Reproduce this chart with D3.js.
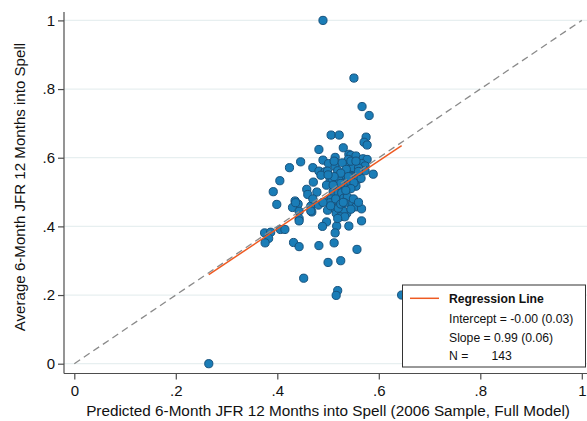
<!DOCTYPE html>
<html>
<head>
<meta charset="utf-8">
<script src="https://cdn.jsdelivr.net/npm/d3@7"></script>
<style>
  html, body { margin: 0; padding: 0; background: #fff; }
  svg { display: block; font-family: "Liberation Sans", Arial, sans-serif; }
</style>
</head>
<body>
<svg id="chart" width="587" height="421"></svg>
<script>
// ---- Data ----
const predicted = [
  .490,.551,.567,.581,.506,.522,.575,.571,.577,.530,
  .482,.541,.545,.555,.569,.577,.514,.490,.446,.501,
  .540,.566,.424,.470,.514,.538,.547,.550,.573,.573,
  .589,.482,.494,.499,.486,.519,.531,.538,.547,.555,
  .560,.504,.508,.521,.405,.471,.539,.553,.559,.543,
  .530,.518,.555,.551,.458,.460,.478,.392,.510,.520,
  .527,.399,.435,.441,.430,.466,.481,.468,.466,.502,
  .506,.520,.531,.538,.547,.555,.566,.499,.514,.524,
  .537,.516,.443,.443,.436,.443,.504,.530,.566,.497,
  .489,.517,.514,.541,.375,.387,.406,.415,.383,.376,
  .432,.443,.482,.512,.557,.500,.525,.452,.519,.516,
  .645,.265,.533,.520,.524,.533,.519,
  .512,.528,.536,.560,.545,.525,.512,.540,.565,.497,
  .525,.545,.535,.515,.550,.560,.505,.525,.545,.490,
  .470,.555,.500,.530,.510,.560
];
const actual = [
  1.000,.832,.749,.723,.666,.666,.660,.645,.637,.629,
  .624,.610,.607,.605,.597,.595,.601,.593,.588,.583,
  .595,.583,.571,.571,.574,.576,.569,.571,.576,.562,
  .552,.561,.559,.561,.549,.562,.548,.554,.546,.546,
  .554,.532,.539,.537,.533,.529,.535,.533,.537,.527,
  .517,.515,.517,.527,.508,.493,.500,.501,.501,.496,
  .498,.464,.474,.465,.455,.459,.462,.442,.445,.476,
  .480,.475,.482,.486,.463,.457,.451,.447,.452,.444,
  .438,.438,.444,.423,.469,.416,.469,.444,.416,.413,
  .400,.401,.381,.401,.381,.383,.391,.391,.365,.352,
  .353,.341,.344,.352,.333,.295,.300,.249,.213,.199,
  .200,.000,.468,.453,.428,.428,.423,
  .590,.585,.566,.570,.590,.555,.545,.545,.540,.520,
  .525,.510,.505,.480,.480,.470,.460,.465,.450,.470,
  .480,.590,.550,.470,.520,.560
];
const tickValues = [0, .2, .4, .6, .8, 1];
const tickLabels = ["0", ".2", ".4", ".6", ".8", "1"];
const xTitle = "Predicted 6-Month JFR 12 Months into Spell (2006 Sample, Full Model)";
const yTitle = "Average 6-Month JFR 12 Months into Spell";
const regIntercept = -0.003;
const regSlope = 0.99;
const legendTitle = "Regression Line";
const legendLines = ["Intercept = -0.00 (0.03)", "Slope = 0.99 (0.06)"];
const legendN = ["N =", "143"];

// ---- Layout ----
const svg = d3.select("#chart");
const axisX0 = 64, axisY0 = 373.5;
const x = d3.scaleLinear().domain([0, 1]).range([74.3, 581.8]);
const y = d3.scaleLinear().domain([0, 1]).range([363.7, 20.4]);

svg.append("rect").attr("width", 587).attr("height", 421).attr("fill", "#fff");

// gridlines
svg.append("g").selectAll("line").data(tickValues).join("line")
  .attr("x1", axisX0).attr("x2", 587)
  .attr("y1", d => y(d)).attr("y2", d => y(d))
  .attr("stroke", "#e7eff0").attr("stroke-width", 1.2);

const line = d3.line().x(d => x(d[0])).y(d => y(d[1]));

// points
const pts = predicted.map((p, i) => [p, actual[i]]);
svg.append("g").selectAll("circle").data(pts).join("circle")
  .attr("cx", d => x(d[0])).attr("cy", d => y(d[1])).attr("r", 4.1)
  .attr("fill", "#1a7db7").attr("stroke", "#17527d").attr("stroke-width", 1);

// 45-degree reference line (dashed)
svg.append("path").datum([[0, 0], [1, 1]])
  .attr("d", line).attr("fill", "none")
  .attr("stroke", "#8a8a8a").attr("stroke-width", 1.3)
  .attr("stroke-dasharray", "7,4.5");

// regression line
const xmin = d3.min(predicted), xmax = d3.max(predicted);
svg.append("path")
  .datum([[xmin, regIntercept + regSlope * xmin], [xmax, regIntercept + regSlope * xmax]])
  .attr("d", line).attr("fill", "none")
  .attr("stroke", "#ee5a22").attr("stroke-width", 1.5);

// axes
const xAxis = d3.axisBottom(x).tickValues(tickValues)
  .tickFormat((d, i) => tickLabels[i]).tickSizeOuter(0).tickSize(6).tickPadding(3);
const yAxis = d3.axisLeft(y).tickValues(tickValues)
  .tickFormat((d, i) => tickLabels[i]).tickSizeOuter(0).tickSize(6).tickPadding(3);

const gx = svg.append("g").attr("transform", `translate(0,${axisY0})`).call(xAxis);
gx.select(".domain").remove();
gx.append("line").attr("x1", axisX0).attr("x2", 587).attr("stroke", "#4d4d4d").attr("stroke-width", 1.2);
gx.selectAll(".tick line").attr("stroke", "#4d4d4d").attr("stroke-width", 1.2);
gx.selectAll(".tick text").attr("font-size", 15).attr("fill", "#111")
  .attr("font-family", "Liberation Sans, Arial, sans-serif").attr("dy", "0.92em");

const gy = svg.append("g").attr("transform", `translate(${axisX0},0)`).call(yAxis);
gy.select(".domain").remove();
gy.append("line").attr("y1", 12).attr("y2", axisY0).attr("stroke", "#4d4d4d").attr("stroke-width", 1.2);
gy.selectAll(".tick line").attr("stroke", "#4d4d4d").attr("stroke-width", 1.2);
gy.selectAll(".tick text").attr("font-size", 15).attr("fill", "#111")
  .attr("font-family", "Liberation Sans, Arial, sans-serif");

// axis titles
svg.append("text").attr("x", (x(0) + x(1)) / 2).attr("y", 415.5)
  .attr("text-anchor", "middle").attr("font-size", 15.3).attr("fill", "#111")
  .text(xTitle);
svg.append("text").attr("transform", `translate(25,${(y(0) + y(1)) / 2 - 5}) rotate(-90)`)
  .attr("text-anchor", "middle").attr("font-size", 15.1).attr("fill", "#111")
  .text(yTitle);

// legend
const lg = svg.append("g");
lg.append("rect").attr("x", 402.5).attr("y", 285).attr("width", 183).attr("height", 82)
  .attr("fill", "#fff").attr("stroke", "#333").attr("stroke-width", 1);
lg.append("line").attr("x1", 410).attr("x2", 439).attr("y1", 298.3).attr("y2", 298.3)
  .attr("stroke", "#ee5a22").attr("stroke-width", 1.5);
lg.append("text").attr("x", 449).attr("y", 302.8).attr("font-size", 12.2)
  .attr("font-weight", "bold").attr("fill", "#111").text(legendTitle);
legendLines.forEach((t, i) => {
  lg.append("text").attr("x", 449).attr("y", 322.8 + i * 19).attr("font-size", 12.2)
    .attr("fill", "#111").text(t);
});
lg.append("text").attr("x", 449).attr("y", 359.8).attr("font-size", 12.2).attr("fill", "#111").text(legendN[0]);
lg.append("text").attr("x", 491.5).attr("y", 359.8).attr("font-size", 12.2).attr("fill", "#111").text(legendN[1]);
</script>
</body>
</html>
